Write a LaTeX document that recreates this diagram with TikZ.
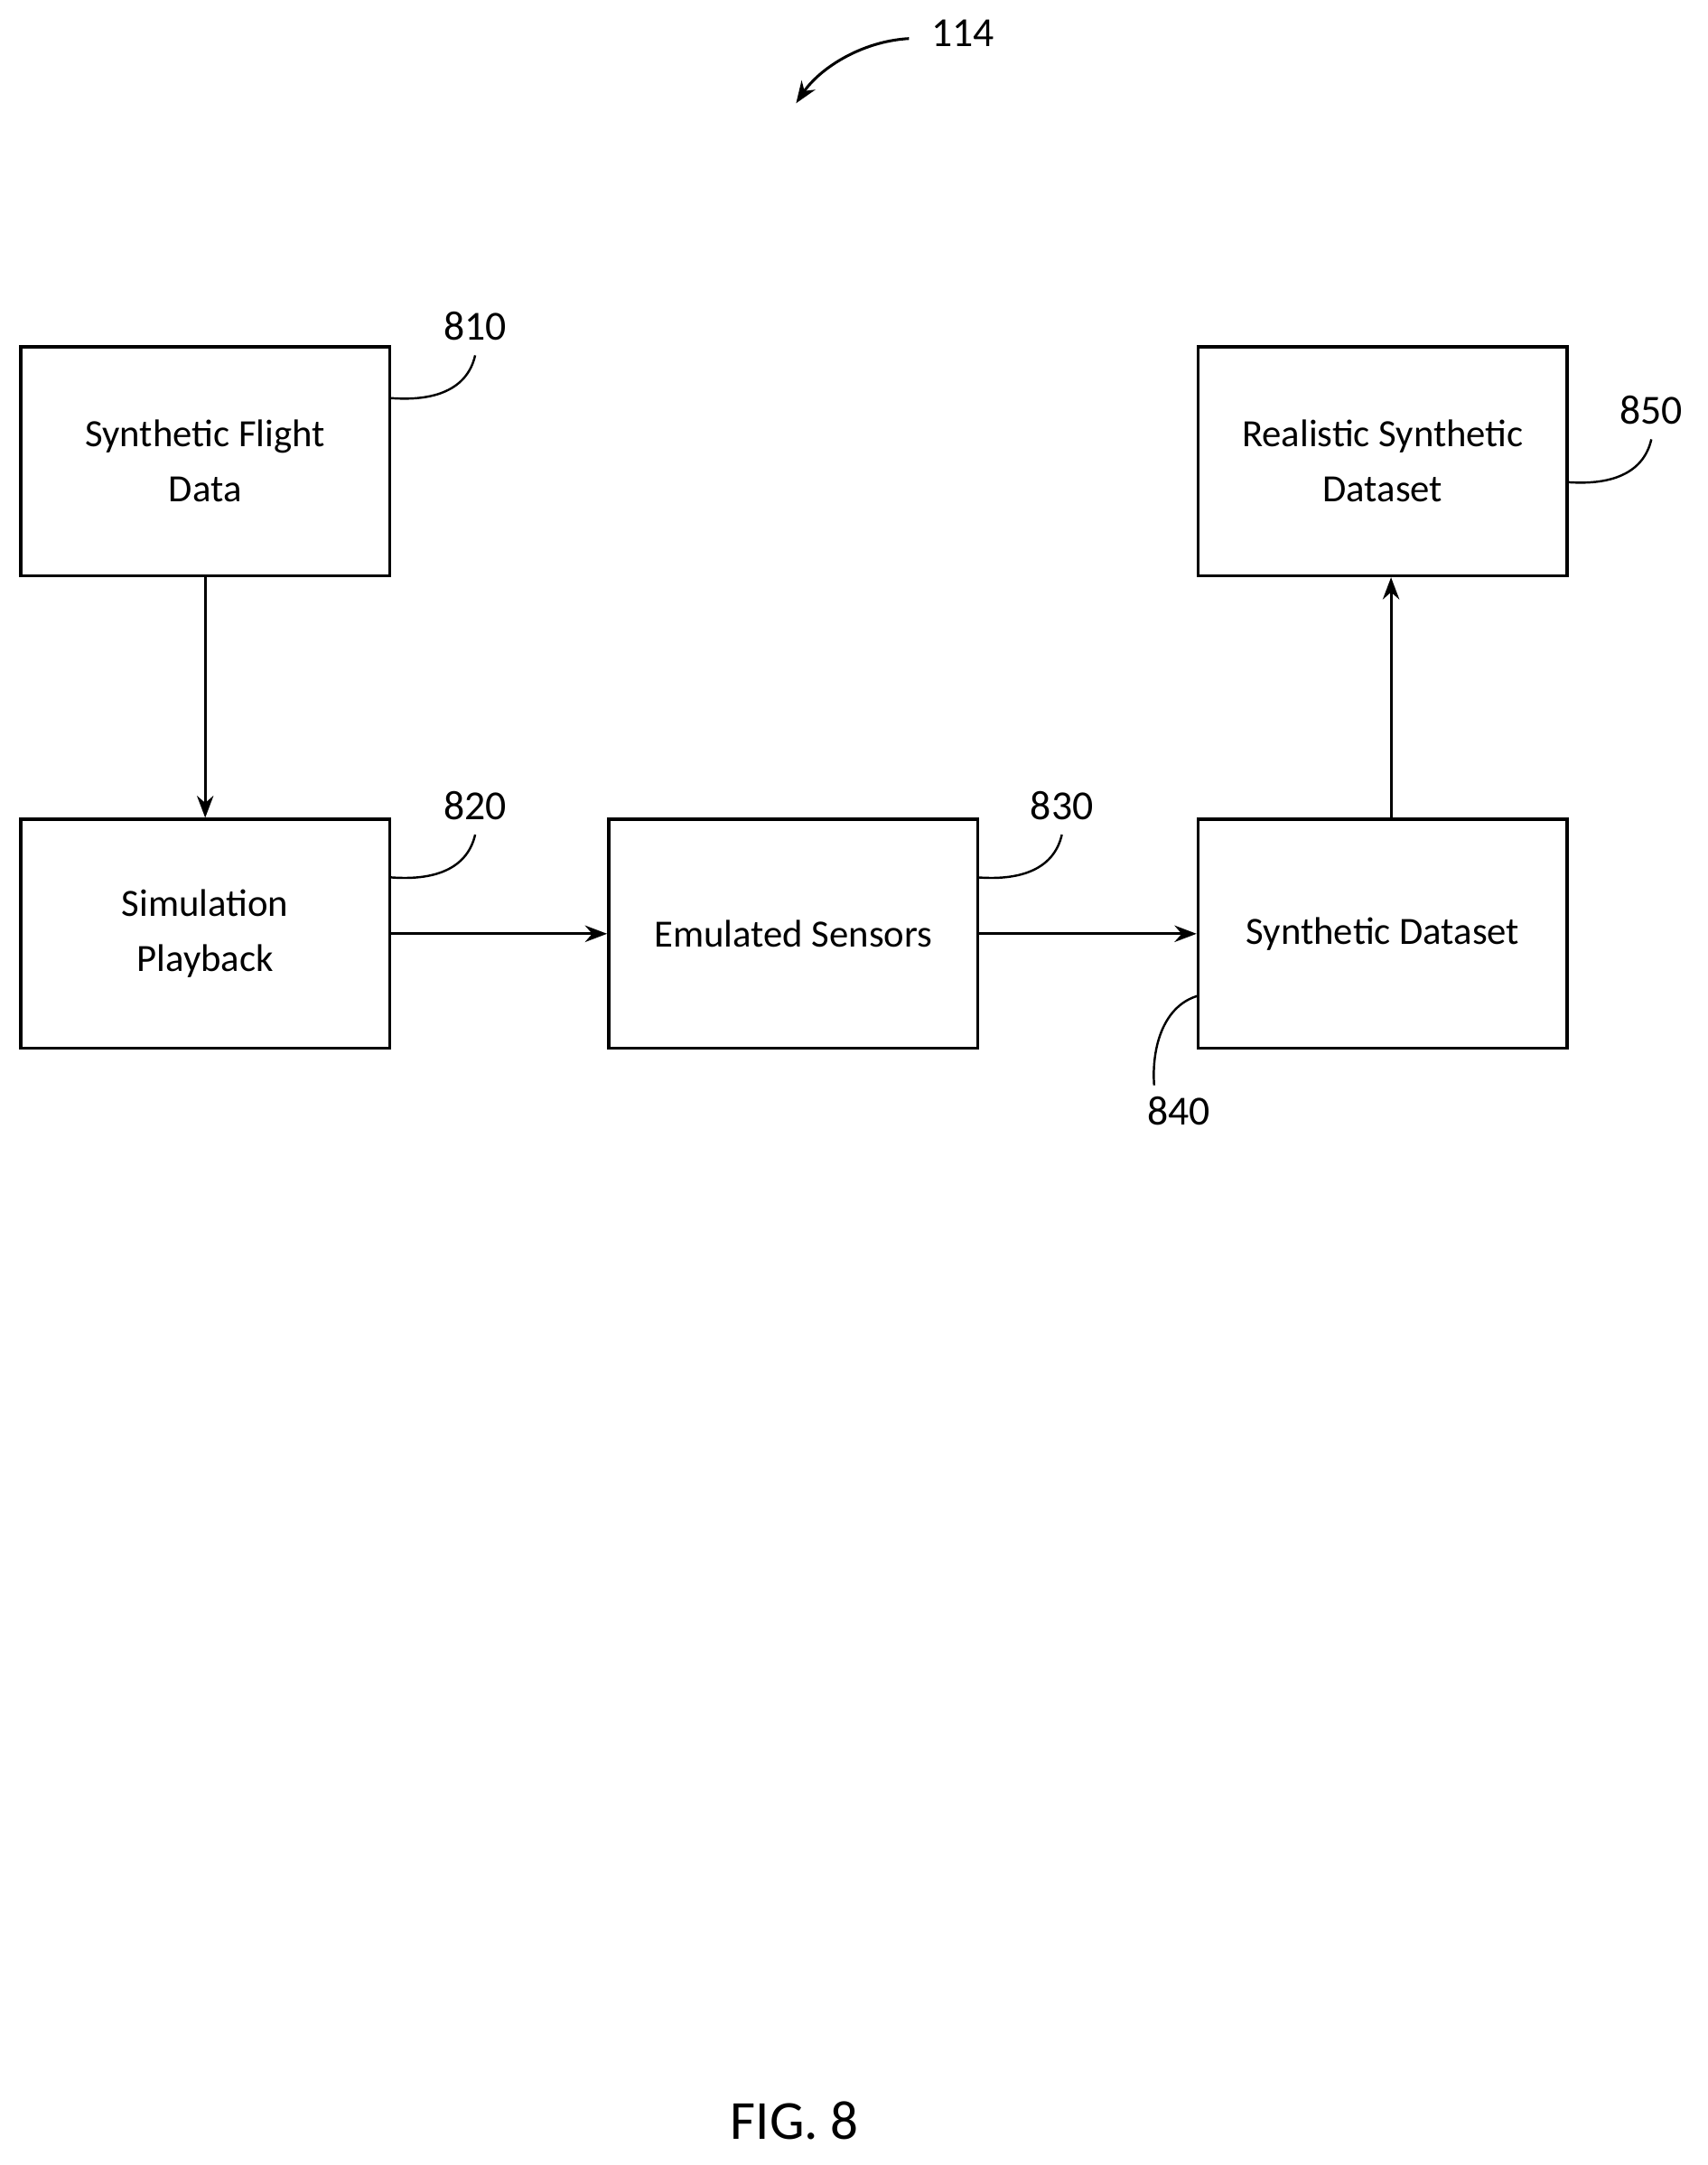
\documentclass[tikz,border=0pt]{standalone}
\usepackage{fontspec}
\setmainfont{Carlito}
\usetikzlibrary{arrows.meta}
\begin{document}
\begin{tikzpicture}[x=0.5pt,y=-0.5pt,
 box/.style={draw,line width=1.2pt,minimum width=134pt,minimum height=83pt,align=center,font=\fontsize{14}{20}\selectfont,inner sep=0pt},
 lab/.style={font=\fontsize{15}{18}\selectfont},
 arr/.style={-{Stealth[length=8pt,width=6pt]},line width=1pt},
 lead/.style={line width=0.8pt}]
\useasboundingbox (0,0) rectangle (1240,1572);
\node[box] (a) at (149,335) {Synthetic Flight\\Data};
\node[box] (b) at (149,678) {Simulation\\Playback};
\node[box] (c) at (576,678) {Emulated Sensors};
\node[box] (d) at (1004,678) {Synthetic Dataset};
\node[box] (e) at (1004,335) {Realistic Synthetic\\Dataset};
\draw[arr] (a) -- (b);
\draw[arr] (b) -- (c);
\draw[arr] (c) -- (d);
\draw[arr] (d.north-|1010,0) -- (e.south-|1010,0);
\node[lab] (l1) at (345,237) {810};
\node[lab] (l2) at (345,585) {820};
\node[lab] (l3) at (771,585) {830};
\node[lab] (l4) at (856,807) {840};
\node[lab] (l5) at (1199,298) {850};
\node[lab] (l0) at (699,24) {114};
\node[font=\fontsize{20}{24}\selectfont] (fig) at (577,1540) {FIG. 8};
\coordinate (p1) at (283,289); \draw[lead] (p1) .. controls (320,292) and (340,280) .. (345,258);
\coordinate (p2) at (283,637); \draw[lead] (p2) .. controls (320,640) and (340,628) .. (345,606);
\coordinate (p3) at (709,637); \draw[lead] (p3) .. controls (746,640) and (766,628) .. (771,606);
\coordinate (p5) at (1137,350); \draw[lead] (p5) .. controls (1174,353) and (1194,341) .. (1199,319);
\coordinate (p4) at (870,723); \draw[lead] (p4) .. controls (845,730) and (836,760) .. (838,788);
\coordinate (q0) at (660,28); \coordinate (q1) at (578,75);
\draw[arr] (q0) .. controls (625,30) and (595,50) .. (q1);
\end{tikzpicture}
\end{document}
